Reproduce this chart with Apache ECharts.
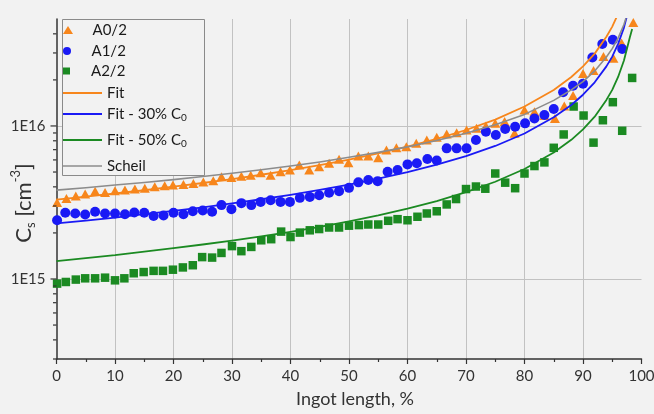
<!DOCTYPE html>
<html>
<head>
<meta charset="utf-8">
<script src="https://cdn.jsdelivr.net/npm/echarts@6/dist/echarts.min.js"></script>
<style>
  html, body { margin: 0; padding: 0; background: #f2f2f2; }
  #chart { width: 654px; height: 414px; }
</style>
</head>
<body>
<div id="chart"></div>
<script>
// Measured dopant concentration along the ingot (cm^-3)
const xA0 = [0.1, 1.7, 3.3, 4.9, 6.6, 8.3, 10.0, 11.7, 13.4, 15.1, 16.8, 18.5, 19.9, 21.7, 23.4, 25.1, 26.8, 28.2, 29.9, 31.6,
  33.2, 34.9, 36.6, 38.3, 39.9, 41.5, 43.2, 44.9, 46.6, 48.3, 49.9, 51.6, 53.3, 55.0, 56.4, 58.1, 59.8, 61.5, 63.3, 65.0,
  66.7, 68.4, 70.1, 71.8, 73.4, 75.0, 76.6, 78.3, 80.0, 81.7, 83.4, 85.2, 86.8, 88.3, 90.0, 91.8, 93.5, 95.2, 96.6, 98.6];
const yA0 = [3.16e15, 3.36e15, 3.48e15, 3.59e15, 3.75e15, 3.68e15, 3.77e15, 3.81e15, 3.87e15, 3.91e15, 4.0e15, 4.06e15, 4.11e15, 4.15e15, 4.21e15, 4.30e15, 4.38e15, 4.66e15, 4.61e15, 4.70e15,
  4.77e15, 4.94e15, 4.77e15, 5.02e15, 5.15e15, 5.56e15, 5.15e15, 5.41e15, 5.70e15, 6.05e15, 5.75e15, 6.37e15, 6.37e15, 6.20e15, 6.96e15, 7.21e15, 7.32e15, 7.71e15, 8.10e15, 8.43e15,
  8.87e15, 9.04e15, 9.41e15, 9.66e15, 1.0e16, 1.04e16, 1.07e16, 8.96e15, 1.27e16, 1.24e16, 1.17e16, 1.12e16, 1.35e16, 1.58e16, 2.2e16, 2.3e16, 2.84e16, 2.77e16, 3.48e16, 4.74e16];

const xA1 = [0.1, 1.5, 3.2, 4.9, 6.6, 8.3, 10.0, 11.7, 13.3, 15.0, 16.6, 18.3, 20.0, 21.7, 23.3, 25.0, 26.6, 28.2, 29.9, 31.6,
  33.3, 34.9, 36.6, 38.3, 39.9, 41.6, 43.3, 44.9, 46.6, 48.3, 50.0, 51.6, 53.3, 54.9, 56.6, 58.3, 60.0, 61.6, 63.4, 65.0,
  66.7, 68.4, 70.1, 71.7, 73.4, 75.1, 76.7, 78.4, 80.1, 81.7, 83.4, 85.0, 86.6, 88.3, 90.0, 91.6, 93.3, 95.1, 96.7];
const yA1 = [2.42e15, 2.71e15, 2.68e15, 2.64e15, 2.75e15, 2.68e15, 2.68e15, 2.65e15, 2.72e15, 2.71e15, 2.58e15, 2.60e15, 2.71e15, 2.65e15, 2.77e15, 2.80e15, 2.75e15, 3.04e15, 2.86e15, 3.13e15,
  3.04e15, 3.19e15, 3.27e15, 3.19e15, 3.19e15, 3.39e15, 3.44e15, 3.53e15, 3.66e15, 3.75e15, 3.94e15, 4.28e15, 4.43e15, 4.36e15, 5.02e15, 5.15e15, 5.61e15, 5.70e15, 6.08e15, 5.95e15,
  7.14e15, 7.14e15, 7.14e15, 8.10e15, 9.18e15, 8.73e15, 9.55e15, 9.89e15, 1.04e16, 1.12e16, 1.18e16, 1.29e16, 1.66e16, 1.83e16, 1.89e16, 2.80e16, 3.43e16, 3.66e16, 3.18e16];

const xA2 = [0.1, 1.6, 3.3, 4.9, 6.6, 8.3, 10.0, 11.6, 13.2, 14.9, 16.6, 18.2, 19.9, 21.6, 23.3, 24.9, 26.6, 28.2, 30.0, 31.6,
  33.3, 35.0, 36.7, 38.4, 40.0, 41.6, 43.3, 44.9, 46.6, 48.3, 50.0, 51.7, 53.3, 55.0, 56.7, 58.3, 60.0, 61.7, 63.3, 65.0,
  66.7, 68.3, 70.0, 71.7, 73.3, 75.0, 76.7, 78.4, 80.0, 81.7, 83.4, 85.0, 86.7, 88.4, 90.1, 91.8, 93.4, 95.1, 96.7, 98.4];
const yA2 = [9.33e14, 9.56e14, 9.91e14, 1.01e15, 1.01e15, 1.02e15, 9.8e14, 1.01e15, 1.09e15, 1.11e15, 1.13e15, 1.13e15, 1.15e15, 1.19e15, 1.23e15, 1.39e15, 1.38e15, 1.48e15, 1.64e15, 1.52e15,
  1.62e15, 1.79e15, 1.82e15, 2.04e15, 1.88e15, 2.01e15, 2.08e15, 2.12e15, 2.17e15, 2.17e15, 2.23e15, 2.25e15, 2.27e15, 2.27e15, 2.40e15, 2.46e15, 2.42e15, 2.55e15, 2.68e15, 2.77e15,
  3.07e15, 3.33e15, 3.87e15, 4.02e15, 3.89e15, 4.89e15, 4.26e15, 3.92e15, 4.89e15, 5.47e15, 5.78e15, 7.2e15, 8.8e15, 1.34e16, 1.17e16, 7.78e15, 1.09e16, 1.43e16, 9.3e15, 2.06e16];

// Fitted segregation curves, sampled along the ingot
const xCurve = [0, 5, 10, 15, 20, 25, 30, 35, 40, 45, 50, 55, 60, 65, 70, 75, 80, 85, 88, 90, 92, 94, 95, 96, 97, 98];
const yFit = [3.3e15, 3.45e15, 3.62e15, 3.8e15, 4.01e15, 4.24e15, 4.5e15, 4.8e15, 5.15e15, 5.55e15, 6.03e15, 6.61e15, 7.32e15, 8.23e15, 9.41e15, 1.1e16, 1.34e16, 1.72e16, 2.09e16, 2.45e16, 2.97e16, 3.83e16, 4.46e16, 5.4e16, 6.97e16, 9.5e16];
const yFit30 = [2.31e15, 2.41e15, 2.52e15, 2.65e15, 2.79e15, 2.94e15, 3.12e15, 3.32e15, 3.55e15, 3.82e15, 4.13e15, 4.52e15, 4.99e15, 5.58e15, 6.35e15, 7.4e15, 8.93e15, 1.14e16, 1.37e16, 1.6e16, 1.93e16, 2.45e16, 2.84e16, 3.44e16, 4.39e16, 6.19e16];
const yScheil = [3.81e15, 3.95e15, 4.11e15, 4.27e15, 4.46e15, 4.67e15, 4.91e15, 5.17e15, 5.47e15, 5.82e15, 6.24e15, 6.72e15, 7.3e15, 8.03e15, 8.95e15, 1.02e16, 1.19e16, 1.47e16, 1.72e16, 1.95e16, 2.29e16, 2.82e16, 3.2e16, 3.75e16, 4.6e16, 6.1e16];
const xFit50 = [0, 5, 10, 15, 20, 25, 30, 35, 40, 45, 50, 55, 60, 65, 70, 75, 80, 85, 88, 90, 92, 94, 95, 96, 97, 98, 98.4];
const yFit50 = [1.31e15, 1.37e15, 1.43e15, 1.51e15, 1.59e15, 1.68e15, 1.78e15, 1.9e15, 2.03e15, 2.19e15, 2.38e15, 2.6e15, 2.88e15, 3.23e15, 3.69e15, 4.32e15, 5.23e15, 6.7e15, 8.12e15, 9.49e15, 1.15e16, 1.48e16, 1.72e16, 2.09e16, 2.68e16, 3.79e16, 4.3e16];

// Axis ticks and labels
const xTickLabels = ['0', '10', '20', '30', '40', '50', '60', '70', '80', '90', '100'];
const yLabelValues = [1e15, 1e16];
const yLabelTexts = ['1E15', '1E16'];
const yMinorTicks = [3e14, 4e14, 5e14, 6e14, 7e14, 8e14, 9e14, 2e15, 3e15, 4e15, 5e15, 6e15, 7e15, 8e15, 9e15, 2e16, 3e16, 4e16];

const names = ['A0/2', 'A1/2', 'A2/2', 'Fit', 'Fit - 30% C0', 'Fit - 50% C0', 'Scheil'];
const legendRowY = [30, 51, 71, 93, 114, 140, 166];

const cOrange = '#f7861c';
const cBlue = '#1a1af5';
const cGreen = '#1b8a22';
const cGray = '#8c8c8c';
const FONT = 'Lato';

const zip = (xs, ys) => xs.map((x, i) => [x, ys[i]]);

const chart = echarts.init(document.getElementById('chart'), null, { renderer: 'canvas' });

const scatter = (name, xs, ys, symbol, size, color) => ({
  name, type: 'scatter', data: zip(xs, ys), symbol, symbolSize: size,
  itemStyle: { color, opacity: 1 }, z: 2
});
const fitLine = (name, xs, ys, color, width) => ({
  name, type: 'line', data: zip(xs, ys), symbol: 'none', smooth: false,
  lineStyle: { color, width, join: 'round' }, itemStyle: { color }, z: 3
});

const subRich = {
  sub: { fontFamily: FONT, fontSize: 10, lineHeight: 9, verticalAlign: 'bottom', color: '#1a1a1a' }
};

// legend icons: marker rows keep their aspect inside the 39px icon slot, line rows are thin bars
const legendIcons = [
  { icon: 'path://M5,0 L10,8 L0,8 Z', h: 8 },
  { icon: 'circle', h: 8 },
  { icon: 'path://M0,0 L1,0 L1,1 L0,1 Z', h: 7 },
  { icon: 'rect', h: 1.8 },
  { icon: 'rect', h: 1.8 },
  { icon: 'rect', h: 1.8 },
  { icon: 'rect', h: 1.6 }
];

const legends = names.map((n, i) => ({
  data: [{ name: n, icon: legendIcons[i].icon }],
  left: 63,
  top: legendRowY[i] - 9,
  orient: 'vertical',
  padding: 0,
  itemWidth: 39,
  itemHeight: legendIcons[i].h,
  symbolKeepAspect: true,
  selectedMode: false,
  itemStyle: { opacity: 1 },
  formatter: s => s.replace(/C0$/, 'C{sub|0}'),
  textStyle: { fontFamily: FONT, fontSize: 15, lineHeight: 18, color: '#1a1a1a', rich: subRich },
  z: 5
}));

const option = {
  backgroundColor: '#f2f2f2',
  animation: false,
  grid: { left: 56.5, right: 12.5, top: 19, bottom: 55, containLabel: false, outerBoundsMode: 'none' },
  legend: legends,
  graphic: [{
    type: 'rect', z: 3,
    shape: { x: 62.5, y: 19.5, width: 142, height: 156 },
    style: { fill: '#f2f2f2', stroke: '#8a8a8a', lineWidth: 1 }
  }],
  xAxis: {
    type: 'value', min: 0, max: 100, interval: 10,
    name: 'Ingot length, %', nameLocation: 'middle', nameGap: 31, nameMoveOverlap: false,
    nameTextStyle: { fontFamily: FONT, fontSize: 18, color: '#333', padding: [0, 0, 0, 12] },
    axisLine: { show: true, onZero: false, lineStyle: { color: '#333', width: 1.5 } },
    axisTick: { show: true, inside: false, length: 5, lineStyle: { color: '#333', width: 1.2 } },
    minorTick: { show: true, splitNumber: 2, length: 3, lineStyle: { color: '#333', width: 1.2 } },
    axisLabel: { fontFamily: FONT, fontSize: 15, color: '#333', margin: 10,
      formatter: v => xTickLabels[Math.round(v / 10)] },
    splitLine: { show: true, showMinLine: false, showMaxLine: false, lineStyle: { color: '#c2c2c2', width: 1 } }
  },
  yAxis: {
    type: 'log', logBase: 10, min: 3e14, max: 5e16,
    name: 'C{s|s} [cm{sup|-3}]', nameLocation: 'middle', nameRotate: 90, nameGap: 19, nameMoveOverlap: false,
    nameTextStyle: {
      fontFamily: FONT, fontSize: 22, lineHeight: 28, color: '#333', padding: [0, 28, 0, 0],
      rich: {
        s: { fontFamily: FONT, fontSize: 13, lineHeight: 10, verticalAlign: 'bottom', color: '#333' },
        sup: { fontFamily: FONT, fontSize: 13, lineHeight: 10, verticalAlign: 'top', color: '#333' }
      }
    },
    axisLine: { show: true, onZero: false, lineStyle: { color: '#333', width: 1.5 } },
    axisTick: { show: false },
    minorTick: { show: false },
    axisLabel: {
      fontFamily: FONT, fontSize: 15, color: '#333', margin: 11, showMinLabel: false, showMaxLabel: false,
      formatter: v => {
        const i = yLabelValues.findIndex(t => Math.abs(t - v) / t < 1e-6);
        return i >= 0 ? yLabelTexts[i] : '';
      }
    },
    splitLine: { show: true, showMinLine: false, showMaxLine: false, lineStyle: { color: '#c2c2c2', width: 1 } }
  },
  series: [
    scatter('A0/2', xA0, yA0, 'triangle', [10, 9], cOrange),
    scatter('A1/2', xA1, yA1, 'circle', 10, cBlue),
    scatter('A2/2', xA2, yA2, 'rect', 8.5, cGreen),
    fitLine('Fit', xCurve, yFit, cOrange, 1.8),
    fitLine('Fit - 30% C0', xCurve, yFit30, cBlue, 1.8),
    fitLine('Fit - 50% C0', xFit50, yFit50, cGreen, 1.8),
    fitLine('Scheil', xCurve, yScheil, cGray, 1.6),
    {
      // y-axis major and minor tick marks (decade subdivisions)
      name: 'yTicks', type: 'custom', coordinateSystem: 'cartesian2d', clip: false, silent: true, z: 4,
      data: yMinorTicks.map(v => [0, v, 0]).concat(yLabelValues.map(v => [0, v, 1])),
      renderItem: (params, api) => {
        const p = api.coord([0, api.value(1)]);
        const len = api.value(2) ? 6 : 3.5;
        return {
          type: 'line',
          shape: { x1: p[0] - len, y1: p[1], x2: p[0], y2: p[1] },
          style: { stroke: '#333', lineWidth: 1.2 }
        };
      }
    }
  ]
};

chart.setOption(option);
</script>
</body>
</html>
